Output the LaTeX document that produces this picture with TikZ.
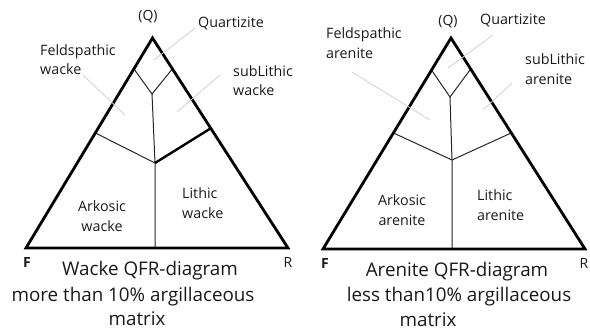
\documentclass[tikz,border=0pt]{standalone}
\usepackage{fontspec}
\setmainfont{Open Sans}
\usetikzlibrary{calc}
\begin{document}
\begin{tikzpicture}[x=1pt,y=-1pt,
  outer/.style={line width=2.8pt, line join=miter},
  inner/.style={line width=1pt, draw=black!85},
  boldinner/.style={line width=2.4pt},
  leader/.style={line width=0.8pt, draw=black!18},
  lbl/.style={font=\fontsize{14.3}{19.5}\selectfont, text=black!90, inner sep=0pt, align=left},
  clbl/.style={lbl, align=center},
  ttl/.style={font=\fontsize{18.8}{22}\selectfont, text=black!90, inner sep=0pt},
  corner/.style={font=\fontsize{14}{15}\selectfont, text=black!90, inner sep=0pt}]
\useasboundingbox (0,0) rectangle (590,330);

% ---------- left triangle (wacke) ----------
\coordinate (A1) at (152.5,38);
\coordinate (F1) at (26,248);
\coordinate (R1) at (288,248);
\coordinate (QL1) at ($(A1)!0.147!(F1)$);
\coordinate (QR1) at ($(A1)!0.147!(R1)$);
\coordinate (J1) at (152,94);
\coordinate (LL1) at ($(A1)!0.452!(F1)$);
\coordinate (LR1) at ($(A1)!0.43!(R1)$);
\coordinate (M1) at (155,163);
\coordinate (B1) at (155,248);

\draw[inner] (QL1) -- (J1) -- (QR1);
\draw[inner] (J1) -- (M1) -- (B1);
\draw[inner] (LL1) -- (M1);
\draw[boldinner] (LR1) -- (M1);
\draw[outer] (A1) -- (F1) -- (R1) -- cycle;

\node[corner] (q1) at (148,17) {(Q)};
\node[lbl] (qz1) at (231,23) {Quartizite};
\node[lbl, anchor=west] (fw1) at (40,59.5) {Feldspathic\\wacke};
\node[lbl, anchor=west] (sl1) at (233,80.5) {subLithic\\wacke};
\node[clbl] (ak1) at (102,216) {Arkosic\\wacke};
\node[lbl, anchor=west] (lw1) at (182,203) {Lithic\\wacke};
\node[corner, font=\fontsize{14}{15}\selectfont\bfseries] (fl1) at (27,262) {F};
\node[corner] (rl1) at (288,262) {R};
\node[ttl] (t11) at (150,271) {Wacke QFR-diagram};
\node[ttl] (t12) at (133,297) {more than 10\% argillaceous};
\node[ttl] (t13) at (137,319) {matrix};

\coordinate (qzs1) at (195,28);  \coordinate (qze1) at (154,60);
\coordinate (fws1) at (83,75);   \coordinate (fwe1) at (125,115);
\coordinate (sls1) at (220,75);  \coordinate (sle1) at (177,112);
\draw[leader] (qzs1) -- (qze1);
\draw[leader] (fws1) -- (fwe1);
\draw[leader] (sls1) -- (sle1);

% ---------- right triangle (arenite) ----------
\coordinate (A2) at (451,38);
\coordinate (F2) at (323,249);
\coordinate (R2) at (585,249);
\coordinate (QL2) at ($(A2)!0.152!(F2)$);
\coordinate (QR2) at ($(A2)!0.147!(R2)$);
\coordinate (J2) at (450,97);
\coordinate (LL2) at ($(A2)!0.45!(F2)$);
\coordinate (LR2) at ($(A2)!0.45!(R2)$);
\coordinate (M2) at (452,160);
\coordinate (B2) at (452,249);

\draw[inner] (QL2) -- (J2) -- (QR2);
\draw[inner] (J2) -- (M2) -- (B2);
\draw[inner] (LL2) -- (M2) -- (LR2);
\draw[outer] (A2) -- (F2) -- (R2) -- cycle;

\node[corner] (q2) at (448,22) {(Q)};
\node[lbl] (qz2) at (513,20) {Quartizite};
\node[lbl, anchor=west] (fa2) at (326,43) {Feldspathic\\arenite};
\node[lbl, anchor=west] (sl2) at (525,69) {subLithic\\arenite};
\node[clbl] (ak2) at (402,210) {Arkosic\\arenite};
\node[lbl, anchor=west] (la2) at (477,205) {Lithic\\arenite};
\node[corner, font=\fontsize{14}{15}\selectfont\bfseries] (fl2) at (325,263) {F};
\node[corner] (rl2) at (584,263) {R};
\node[ttl] (t21) at (457,272) {Arenite QFR-diagram};
\node[ttl] (t22) at (459,297) {less than10\% argillaceous};
\node[ttl] (t23) at (428,320) {matrix};

\coordinate (qzs2) at (493,35);  \coordinate (qze2) at (448,68);
\coordinate (fas2) at (352,72);  \coordinate (fae2) at (430,120);
\coordinate (sls2) at (512,83);  \coordinate (sle2) at (483,110);
\draw[leader] (qzs2) -- (qze2);
\draw[leader] (fas2) -- (fae2);
\draw[leader] (sls2) -- (sle2);
\end{tikzpicture}
\end{document}
